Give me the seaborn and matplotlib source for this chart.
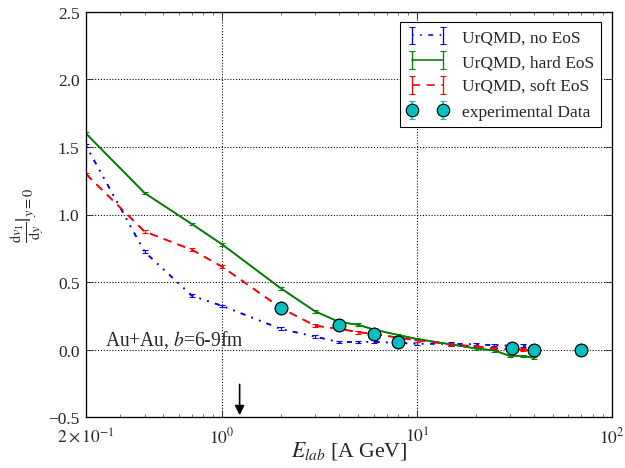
import numpy as np
import pandas as pd
import matplotlib
matplotlib.use("Agg")
import matplotlib.pyplot as plt
import seaborn as sns

# ---- data ----
e_sim = [0.2, 0.4, 0.7, 1.0, 2.0, 3.0, 4.0, 5.0, 6.0, 8.0, 10.0, 15.0, 20.0, 25.0, 30.0, 35.0, 40.0]
v1_noeos = [1.51, 0.725, 0.40, 0.325, 0.155, 0.097, 0.057, 0.057, 0.06, 0.05, 0.045, 0.045, 0.04, 0.035, 0.03, 0.03, 0.025]
v1_hard = [1.60, 1.16, 0.93, 0.78, 0.455, 0.285, 0.205, 0.185, 0.15, 0.11, 0.08, 0.04, 0.01, -0.005, -0.045, -0.045, -0.06]
v1_soft = [1.30, 0.875, 0.74, 0.615, 0.31, 0.178, 0.155, 0.13, 0.118, 0.09, 0.07, 0.04, 0.025, 0.01, 0.005, 0.0, 0.0]
err_sim = [0.01] * len(e_sim)

e_exp = [2.0, 4.0, 6.0, 8.0, 30.8, 40.0, 70.0]
v1_exp = [0.308, 0.185, 0.116, 0.061, 0.015, 0.0, -0.005]
err_exp = [0.01, 0.01, 0.01, 0.01, 0.01, 0.01, 0.01]

labels = ["UrQMD, no EoS", "UrQMD, hard EoS", "UrQMD, soft EoS", "experimental Data"]
xtick_vals = [0.2, 1, 10, 100]
xtick_labels = [r"$2\times10^{-1}$", r"$10^{0}$", r"$10^{1}$", r"$10^{2}$"]
ytick_vals = [-0.5, 0.0, 0.5, 1.0, 1.5, 2.0, 2.5]

sns.set_style("ticks")
plt.rcParams["font.family"] = ["Liberation Serif", "DejaVu Serif"]
plt.rcParams["mathtext.fontset"] = "stix"

fig = plt.figure(figsize=(8, 6), dpi=78.125)
ax = fig.add_axes([0.1376, 0.108, 0.841, 0.865])

series = [
    (v1_noeos, "blue", (0, (1, 4, 1, 4, 3, 4)), labels[0]),
    (v1_hard, "green", "-", labels[1]),
    (v1_soft, "red", (0, (5, 4)), labels[2]),
]
handles = []
for vals, col, ls, lab in series:
    df = pd.DataFrame({"E": e_sim, "v1": vals})
    sns.lineplot(data=df, x="E", y="v1", color=col, linestyle=ls, linewidth=1.5,
                 ax=ax, legend=False, estimator=None)
    h = ax.errorbar(e_sim, vals, yerr=err_sim, color=col, ls=ls, lw=1.5,
                    capsize=3, elinewidth=1.2, label=lab)
    handles.append(h)

df_exp = pd.DataFrame({"E": e_exp, "v1": v1_exp})
h = ax.errorbar(e_exp, v1_exp, yerr=err_exp, fmt="o", color="c", ecolor="c",
                mfc="c", mec="k", ms=11.5, capsize=3, label=labels[3], zorder=5)
handles.append(h)
sns.scatterplot(data=df_exp, x="E", y="v1", color="c", edgecolor="k", s=135,
                linewidth=1, ax=ax, zorder=6, legend=False)

ax.set_xscale("log")
ax.set_xlim(0.2, 100)
ax.set_ylim(-0.5, 2.5)
ax.set_xticks(xtick_vals)
ax.set_xticklabels(xtick_labels)
ax.set_yticks(ytick_vals)
ax.set_yticklabels(["\u22120.5", "0.0", "0.5", "1.0", "1.5", "2.0", "2.5"])
ax.tick_params(axis="both", which="both", direction="in", top=True, right=True,
               labelsize=16)
ax.tick_params(axis="x", pad=9)
ax.tick_params(axis="y", pad=6)
ax.tick_params(which="major", length=6)
ax.tick_params(which="minor", length=3)
ax.grid(True, which="major", linestyle=":", color="k", linewidth=1)
for s in ax.spines.values():
    s.set_linewidth(1.2)
    s.set_color("k")

ax.set_xlabel(r"$E_{lab}$ [A GeV]", fontsize=20)
ax.xaxis.set_label_coords(0.5, -0.055)
ax.set_ylabel(r"$\frac{\mathrm{d}v_1}{\mathrm{d}y}|_{y=0}$", fontsize=19, labelpad=2)

ax.text(0.25, 0.0, r"Au+Au, $b$=6-9fm", fontsize=18, ha="left", va="bottom")
ax.annotate("", xy=(1.23, -0.5), xytext=(1.23, -0.24),
            arrowprops=dict(arrowstyle="-|>", color="k", lw=1.5, mutation_scale=18))

leg = ax.legend(handles=handles, labels=labels, loc="upper right", numpoints=2,
                fontsize=16, frameon=True, fancybox=False, edgecolor="k",
                framealpha=1, borderaxespad=0.6, handlelength=2.4,
                labelspacing=0.5, borderpad=0.4)
leg.get_frame().set_linewidth(1)

fig.savefig("out.png", dpi=78.125)
